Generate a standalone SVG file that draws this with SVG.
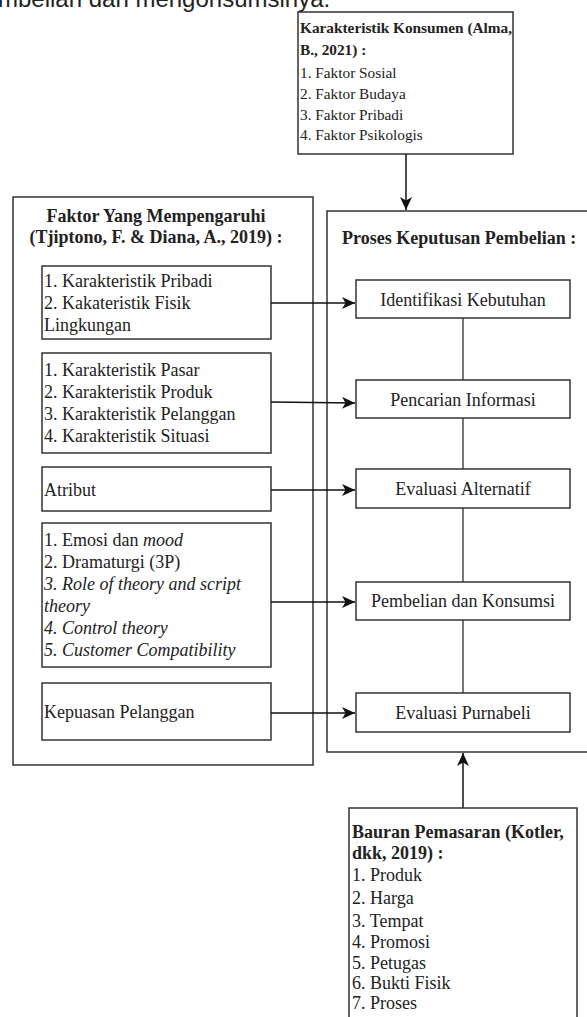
<svg xmlns="http://www.w3.org/2000/svg" width="587" height="1017" viewBox="0 0 587 1017">
<style>
.bx{fill:#fff;stroke:#333;stroke-width:1.5}
.t{font-family:"Liberation Serif","Times New Roman",serif;font-size:18px;fill:#222}
.ts{font-family:"Liberation Serif","Times New Roman",serif;font-size:15.3px;fill:#222}
.b{font-weight:bold}
.i{font-style:italic}
.c{text-anchor:middle}
.ln{stroke:#111;stroke-width:1.5;fill:none}
.gl{stroke:#777;stroke-width:2;fill:none}
</style>
<defs>
<marker id="ar" markerUnits="userSpaceOnUse" markerWidth="14" markerHeight="12" refX="13" refY="6" orient="auto">
<path d="M0,0 L13,6 L0,12 L3.5,6 z" fill="#111"/>
</marker>
</defs>
<rect width="587" height="1017" fill="#fff"/>
<text x="-2" y="7" font-family="'Liberation Sans', Arial, sans-serif" font-size="24" fill="#222">mbelian dan mengonsumsinya.</text>

<g id="konsumen">
<rect class="bx" x="298" y="12" width="215" height="142"/>
<text class="ts b" x="300" y="33">Karakteristik Konsumen (Alma,</text>
<text class="ts b" x="300" y="55">B., 2021) :</text>
<text class="ts" x="300" y="78">1. Faktor Sosial</text>
<text class="ts" x="300" y="99">2. Faktor Budaya</text>
<text class="ts" x="300" y="120">3. Faktor Pribadi</text>
<text class="ts" x="300" y="140">4. Faktor Psikologis</text>
</g>

<g id="faktor">
<rect class="bx" x="13" y="197" width="300" height="568"/>
<text class="t b c" x="156" y="222">Faktor Yang Mempengaruhi</text>
<text class="t b c" x="156" y="243">(Tjiptono, F. &amp; Diana, A., 2019) :</text>
</g>

<g id="f1">
<rect class="bx" x="42" y="266" width="229" height="73"/>
<text class="t" x="44" y="287">1. Karakteristik Pribadi</text>
<text class="t" x="44" y="309">2. Kakateristik Fisik</text>
<text class="t" x="44" y="331">Lingkungan</text>
</g>

<g id="f2">
<rect class="bx" x="42" y="353" width="229" height="100"/>
<text class="t" x="44" y="376">1. Karakteristik Pasar</text>
<text class="t" x="44" y="398">2. Karakteristik Produk</text>
<text class="t" x="44" y="420">3. Karakteristik Pelanggan</text>
<text class="t" x="44" y="442">4. Karakteristik Situasi</text>
</g>

<g id="f3">
<rect class="bx" x="42" y="467" width="229" height="44"/>
<text class="t" x="44" y="496">Atribut</text>
</g>

<g id="f4">
<rect class="bx" x="42" y="523" width="229" height="144"/>
<text class="t" x="44" y="546">1. Emosi dan <tspan class="i">mood</tspan></text>
<text class="t" x="44" y="568">2. Dramaturgi (3P)</text>
<text class="t i" x="44" y="590">3. Role of theory and script</text>
<text class="t i" x="44" y="612">theory</text>
<text class="t i" x="44" y="634">4. Control theory</text>
<text class="t i" x="44" y="656">5. Customer Compatibility</text>
</g>

<g id="f5">
<rect class="bx" x="42" y="683" width="229" height="57"/>
<text class="t" x="44" y="718">Kepuasan Pelanggan</text>
</g>

<g id="proses">
<rect class="bx" x="327" y="211" width="280" height="541"/>
<text class="t b" x="342" y="244">Proses Keputusan Pembelian :</text>
</g>

<g id="connectors">
<line class="ln" x1="406" y1="154" x2="406" y2="210" marker-end="url(#ar)"/>
<line class="ln" x1="463" y1="808" x2="463" y2="753" marker-end="url(#ar)"/>
<line class="ln" x1="271" y1="303" x2="355" y2="303" marker-end="url(#ar)"/>
<line class="ln" x1="271" y1="402" x2="355" y2="403" marker-end="url(#ar)"/>
<line class="ln" x1="271" y1="490" x2="355" y2="490" marker-end="url(#ar)"/>
<line class="ln" x1="271" y1="602" x2="355" y2="602" marker-end="url(#ar)"/>
<line class="ln" x1="271" y1="713" x2="355" y2="713" marker-end="url(#ar)"/>
<line class="gl" x1="463" y1="318" x2="463" y2="380"/>
<line class="gl" x1="463" y1="418" x2="463" y2="469"/>
<line class="gl" x1="463" y1="508" x2="463" y2="582"/>
<line class="gl" x1="463" y1="620" x2="463" y2="693"/>
</g>

<g id="s1">
<rect class="bx" x="356" y="280" width="214" height="38"/>
<text class="t c" x="463" y="306">Identifikasi Kebutuhan</text>
</g>
<g id="s2">
<rect class="bx" x="356" y="380" width="214" height="38"/>
<text class="t c" x="463" y="406">Pencarian Informasi</text>
</g>
<g id="s3">
<rect class="bx" x="356" y="469" width="214" height="39"/>
<text class="t c" x="463" y="495">Evaluasi Alternatif</text>
</g>
<g id="s4">
<rect class="bx" x="356" y="582" width="214" height="38"/>
<text class="t c" x="463" y="607">Pembelian dan Konsumsi</text>
</g>
<g id="s5">
<rect class="bx" x="356" y="693" width="214" height="39"/>
<text class="t c" x="463" y="719">Evaluasi Purnabeli</text>
</g>

<g id="bauran">
<rect class="bx" x="349" y="808" width="228" height="230"/>
<text class="t b" x="352" y="838">Bauran Pemasaran (Kotler,</text>
<text class="t b" x="352" y="859">dkk, 2019) :</text>
<text class="t" x="352" y="881">1. Produk</text>
<text class="t" x="352" y="904">2. Harga</text>
<text class="t" x="352" y="927">3. Tempat</text>
<text class="t" x="352" y="948">4. Promosi</text>
<text class="t" x="352" y="969">5. Petugas</text>
<text class="t" x="352" y="989">6. Bukti Fisik</text>
<text class="t" x="352" y="1009">7. Proses</text>
</g>
</svg>
